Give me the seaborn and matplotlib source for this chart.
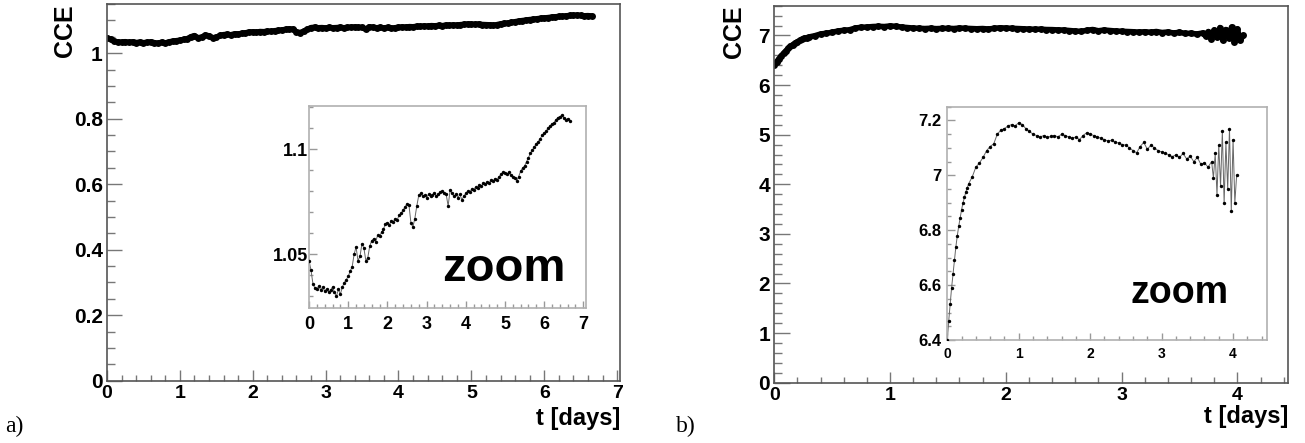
import numpy as np
import pandas as pd
import matplotlib
matplotlib.use('Agg')
import matplotlib.pyplot as plt
from matplotlib.ticker import MultipleLocator, FuncFormatter
import seaborn as sns

# ---- panel a): CCE vs time -------------------------------------------------
t_a = [0.00, 0.05, 0.10, 0.15, 0.20, 0.25, 0.30, 0.35, 0.40, 0.45,
       0.50, 0.55, 0.60, 0.65, 0.70, 0.75, 0.80, 0.85, 0.90, 0.95,
       1.00, 1.05, 1.10, 1.15, 1.20, 1.25, 1.30, 1.35, 1.40, 1.45,
       1.50, 1.55, 1.60, 1.65, 1.70, 1.75, 1.80, 1.85, 1.90, 1.95,
       2.00, 2.05, 2.10, 2.15, 2.20, 2.25, 2.30, 2.35, 2.40, 2.45,
       2.50, 2.55, 2.60, 2.65, 2.70, 2.75, 2.80, 2.85, 2.90, 2.95,
       3.00, 3.05, 3.10, 3.15, 3.20, 3.25, 3.30, 3.35, 3.40, 3.45,
       3.50, 3.55, 3.60, 3.65, 3.70, 3.75, 3.80, 3.85, 3.90, 3.95,
       4.00, 4.05, 4.10, 4.15, 4.20, 4.25, 4.30, 4.35, 4.40, 4.45,
       4.50, 4.55, 4.60, 4.65, 4.70, 4.75, 4.80, 4.85, 4.90, 4.95,
       5.00, 5.05, 5.10, 5.15, 5.20, 5.25, 5.30, 5.35, 5.40, 5.45,
       5.50, 5.55, 5.60, 5.65, 5.70, 5.75, 5.80, 5.85, 5.90, 5.95,
       6.00, 6.05, 6.10, 6.15, 6.20, 6.25, 6.30, 6.35, 6.40, 6.45,
       6.50, 6.55, 6.60, 6.65]
cce_a = [1.0470, 1.0425, 1.0360, 1.0340, 1.0335, 1.0350, 1.0330, 1.0345, 1.0325, 1.0335,
         1.0320, 1.0330, 1.0345, 1.0320, 1.0300, 1.0335, 1.0310, 1.0345, 1.0365, 1.0380,
         1.0395, 1.0420, 1.0440, 1.0500, 1.0535, 1.0470, 1.0490, 1.0550, 1.0530, 1.0470,
         1.0485, 1.0540, 1.0565, 1.0575, 1.0560, 1.0590, 1.0585, 1.0605, 1.0620, 1.0645,
         1.0650, 1.0640, 1.0660, 1.0655, 1.0670, 1.0665, 1.0685, 1.0695, 1.0710, 1.0725,
         1.0740, 1.0735, 1.0650, 1.0630, 1.0670, 1.0730, 1.0780, 1.0790, 1.0775, 1.0780,
         1.0770, 1.0785, 1.0775, 1.0780, 1.0790, 1.0775, 1.0785, 1.0795, 1.0800, 1.0790,
         1.0785, 1.0730, 1.0805, 1.0790, 1.0775, 1.0785, 1.0770, 1.0785, 1.0760, 1.0775,
         1.0790, 1.0800, 1.0795, 1.0810, 1.0805, 1.0820, 1.0815, 1.0830, 1.0825, 1.0840,
         1.0835, 1.0845, 1.0840, 1.0855, 1.0850, 1.0860, 1.0855, 1.0870, 1.0880, 1.0890,
         1.0885, 1.0880, 1.0890, 1.0875, 1.0870, 1.0865, 1.0850, 1.0870, 1.0895, 1.0910,
         1.0920, 1.0940, 1.0960, 1.0980, 1.0995, 1.1010, 1.1025, 1.1035, 1.1050, 1.1065,
         1.1075, 1.1085, 1.1100, 1.1110, 1.1120, 1.1125, 1.1140, 1.1150, 1.1155, 1.1160,
         1.1150, 1.1140, 1.1145, 1.1135]

# ---- panel b) ----------------------------------------------------------------
t_b = [0.00, 0.02, 0.04, 0.06, 0.08, 0.10, 0.12, 0.14, 0.16, 0.18,
       0.20, 0.22, 0.24, 0.26, 0.28, 0.30, 0.35, 0.40, 0.45, 0.50,
       0.55, 0.60, 0.65, 0.70, 0.75, 0.80, 0.85, 0.90, 0.95, 1.00,
       1.05, 1.10, 1.15, 1.20, 1.25, 1.30, 1.35, 1.40, 1.45, 1.50,
       1.55, 1.60, 1.65, 1.70, 1.75, 1.80, 1.85, 1.90, 1.95, 2.00,
       2.05, 2.10, 2.15, 2.20, 2.25, 2.30, 2.35, 2.40, 2.45, 2.50,
       2.55, 2.60, 2.65, 2.70, 2.75, 2.80, 2.85, 2.90, 2.95, 3.00,
       3.05, 3.10, 3.15, 3.20, 3.25, 3.30, 3.35, 3.40, 3.45, 3.50,
       3.55, 3.60, 3.65, 3.700, 3.725, 3.750, 3.775, 3.800, 3.825, 3.850,
       3.875, 3.900, 3.925, 3.950, 3.975, 4.000, 4.025, 4.050]
cce_b = [6.400, 6.470, 6.530, 6.590, 6.640, 6.690, 6.740, 6.780, 6.815, 6.845,
         6.875, 6.900, 6.920, 6.940, 6.955, 6.970, 6.995, 7.030, 7.045, 7.065,
         7.090, 7.105, 7.115, 7.150, 7.165, 7.170, 7.180, 7.185, 7.180, 7.192,
         7.185, 7.170, 7.160, 7.150, 7.145, 7.140, 7.145, 7.138, 7.142, 7.145,
         7.140, 7.150, 7.145, 7.140, 7.135, 7.140, 7.130, 7.145, 7.155, 7.150,
         7.145, 7.140, 7.135, 7.130, 7.125, 7.128, 7.120, 7.118, 7.112, 7.110,
         7.100, 7.090, 7.082, 7.105, 7.120, 7.095, 7.110, 7.100, 7.090, 7.085,
         7.080, 7.075, 7.068, 7.075, 7.065, 7.080, 7.060, 7.070, 7.050, 7.065,
         7.040, 7.045, 7.030, 7.050, 6.990, 7.080, 6.930, 7.110, 6.960, 7.160,
         6.900, 7.120, 6.950, 7.170, 6.870, 7.130, 6.900, 7.000]

df_a = pd.DataFrame({'t': t_a, 'cce': cce_a})
df_b = pd.DataFrame({'t': t_b, 'cce': cce_b})

sns.set_style('ticks')
plt.rcParams['font.family'] = ['Liberation Sans', 'DejaVu Sans']
plt.rcParams['font.weight'] = 'bold'
plt.rcParams['text.color'] = 'black'
plt.rcParams['axes.labelcolor'] = 'black'
plt.rcParams['xtick.labelcolor'] = 'black'
plt.rcParams['ytick.labelcolor'] = 'black'

fig = plt.figure(figsize=(13.05, 4.43), dpi=100)

def g_fmt(v, pos):
    return '%g' % round(v, 6)

def style(ax, xl, yl, xmaj, xmin, ymaj, ymin, xfs, yfs, xlen, ylen,
          xpad, ypad, spine_col, tick_col):
    ax.set_xlim(*xl); ax.set_ylim(*yl)
    ax.xaxis.set_major_locator(MultipleLocator(xmaj))
    ax.xaxis.set_minor_locator(MultipleLocator(xmin))
    ax.yaxis.set_major_locator(MultipleLocator(ymaj))
    ax.yaxis.set_minor_locator(MultipleLocator(ymin))
    ax.xaxis.set_major_formatter(FuncFormatter(g_fmt))
    ax.yaxis.set_major_formatter(FuncFormatter(g_fmt))
    ax.tick_params(axis='x', which='major', direction='in', length=xlen[0],
                   width=1, color=tick_col, labelcolor='black', labelsize=xfs, pad=xpad)
    ax.tick_params(axis='x', which='minor', direction='in', length=xlen[1],
                   width=1, color=tick_col)
    ax.tick_params(axis='y', which='major', direction='in', length=ylen[0],
                   width=1, color=tick_col, labelcolor='black', labelsize=yfs, pad=ypad)
    ax.tick_params(axis='y', which='minor', direction='in', length=ylen[1],
                   width=1, color=tick_col)
    for s in ax.spines.values():
        s.set_color(spine_col); s.set_linewidth(1.2); s.set_visible(True)
    for lab in ax.get_xticklabels() + ax.get_yticklabels():
        lab.set_fontweight('bold')
    ax.set_xlabel(''); ax.set_ylabel('')

# main axes [x0, y0, w, h] in figure fractions
ax_a = fig.add_axes([0.0820, 0.1406, 0.3931, 0.8503])
ax_b = fig.add_axes([0.5933, 0.1361, 0.3939, 0.8510])
in_a = fig.add_axes([0.2368, 0.3047, 0.2123, 0.4560], zorder=5)
in_b = fig.add_axes([0.7259, 0.2325, 0.2447, 0.5266], zorder=5)

for ax, df in ((ax_a, df_a), (ax_b, df_b)):
    sns.lineplot(data=df, x='t', y='cce', ax=ax, color='black', linewidth=4.0,
                 marker='o', markersize=5, markeredgewidth=0, sort=False,
                 estimator=None)
for ax, df in ((in_a, df_a), (in_b, df_b)):
    sns.lineplot(data=df, x='t', y='cce', ax=ax, color='#666666', linewidth=0.7,
                 sort=False, estimator=None)
    sns.scatterplot(data=df, x='t', y='cce', ax=ax, color='black', s=6,
                    linewidth=0, zorder=3)

style(ax_a, (0, 7.04), (0, 1.15), 1, 0.2, 0.2, 0.05, 14, 15,
      (8, 4.3), (10.8, 5.8), 3, 3, '#555555', '#777777')
style(ax_b, (0, 4.44), (0, 7.6), 1, 0.2, 1, 0.2, 14, 15,
      (8, 4.3), (11.5, 5.8), 3, 3, '#555555', '#777777')
style(in_a, (0, 7.07), (1.0245, 1.1205), 1, 0.2, 0.05, 0.01, 13, 13,
      (5, 2.9), (5.8, 2.9), 6, 1, '#b0b0b0', '#999999')
style(in_b, (0, 4.47), (6.4, 7.25), 1, 0.2, 0.2, 0.05, 10, 12,
      (5, 2.9), (5.8, 2.9), 5, 4, '#b0b0b0', '#999999')

# axis titles, ROOT style: at the ends of the axes
for ax, ycoord, xcoord in ((ax_a, -0.0585, -0.069), (ax_b, -0.0545, -0.058)):
    ax.set_ylabel('CCE', loc='top', fontsize=18, fontweight='bold', color='black')
    ax.yaxis.set_label_coords(ycoord, 1.0)
    ax.set_xlabel('t [days]', loc='right', fontsize=17, fontweight='bold', color='black')
    ax.xaxis.set_label_coords(1.0, xcoord)

in_a.text(0.704, 0.134, 'zoom', transform=in_a.transAxes, ha='center',
          va='baseline', fontsize=34, fontweight='bold', color='black')
in_b.text(0.727, 0.159, 'zoom', transform=in_b.transAxes, ha='center',
          va='baseline', fontsize=27, fontweight='bold', color='black')

fig.text(5 / 1305, 0.038, 'a)', family='Liberation Serif', fontweight='normal',
         fontsize=17, ha='left', va='center', color='black')
fig.text(676 / 1305, 0.038, 'b)', family='Liberation Serif', fontweight='normal',
         fontsize=17, ha='left', va='center', color='black')

fig.savefig('out.png', dpi=100)
plt.close('all')
